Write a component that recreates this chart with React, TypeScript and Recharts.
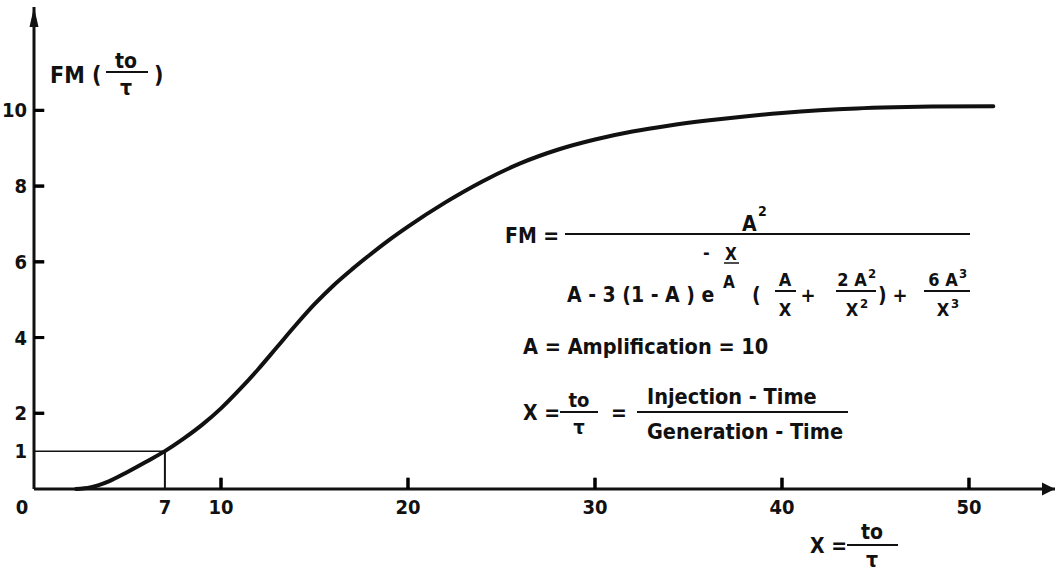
import React from 'react';
import { LineChart, Line, XAxis, YAxis, ReferenceLine } from 'recharts';

// curve: X = to/τ against FM(to/τ)
const xValues = [2.25, 3, 4, 5, 6, 7, 8, 9, 10, 11, 12, 13, 14, 15, 16, 17, 18, 19, 20, 22, 24, 26, 28, 30, 32, 34, 36, 38, 40, 42, 44, 46, 48, 51.3];
const fmValues = [0, 0.04, 0.2, 0.45, 0.72, 1.0, 1.33, 1.7, 2.13, 2.63, 3.17, 3.75, 4.33, 4.88, 5.37, 5.8, 6.2, 6.58, 6.93, 7.57, 8.13, 8.6, 8.96, 9.23, 9.44, 9.6, 9.73, 9.84, 9.93, 10.0, 10.05, 10.08, 10.1, 10.11];

const xTicks = [0, 7, 10, 20, 30, 40, 50];
const yTicks = [1, 2, 4, 6, 8, 10];
const markX = 7;   // X where FM = 1
const markY = 1;

const data = xValues.map((x, i) => ({ x, fm: fmValues[i] }));

const FONT = "'DejaVu Sans Condensed', 'Liberation Sans Narrow', 'DejaVu Sans', sans-serif";
const INK = '#111';

const txt = { fontFamily: FONT, fontWeight: 700, fill: INK } as const;

// inward tick marks, also drawn as short reference segments (length in axis units)
const xMarkLen = 0.3;
const yMarkLen = 0.55;

const renderXTick = (props: any) => {
  const { x, y, payload } = props;
  const v = payload.value;
  return (
    <g key={'xt' + v}>
      {v >= 10 && <path d={`M${x},${y} L${x},${y - 11}`} stroke="#000" strokeWidth={3} fill="none" />}
      <text x={v === 0 ? x - 12 : x} y={y + 25} textAnchor="middle" fontSize={20} {...txt}>{v}</text>
    </g>
  );
};

const renderYTick = (props: any) => {
  const { x, y, payload } = props;
  const v = payload.value;
  return (
    <g key={'yt' + v}>
      {v >= 2 && <path d={`M${x},${y} L${x + 10},${y}`} stroke="#000" strokeWidth={3} fill="none" />}
      <text x={x - 7} y={y + 7} textAnchor="end" fontSize={20} {...txt}>{v}</text>
    </g>
  );
};

const Frac = ({ cx, top, bottom, lineY, x1, x2, size = 18 }: any) => (
  <g>
    <text x={cx} y={top.y} textAnchor="middle" fontSize={size} {...txt}>{top.t}</text>
    <line x1={x1} y1={lineY} x2={x2} y2={lineY} stroke={INK} strokeWidth={2} />
    <text x={cx} y={bottom.y} textAnchor="middle" fontSize={size} {...txt}>{bottom.t}</text>
  </g>
);

const Overlay = () => (
  <svg width={1056} height={572} style={{ position: 'absolute', left: 0, top: 0, pointerEvents: 'none', background: 'transparent' }}>
    <defs>
      <marker id="arrowX" markerUnits="userSpaceOnUse" markerWidth={14} markerHeight={14} refX={13} refY={7} orient="0">
        <path d="M0,0.5 L13,7 L0,13.5 z" fill={INK} />
      </marker>
      <marker id="arrowY" markerUnits="userSpaceOnUse" markerWidth={10} markerHeight={21} refX={5} refY={0} orient="0">
        <path d="M0.5,20 L5,0 L9.5,20 z" fill={INK} />
      </marker>
    </defs>

    {/* y axis title */}
    <text x={50} y={83} fontSize={23} {...txt}>FM (</text>
    <Frac cx={126} x1={106} x2={148} lineY={72} top={{ t: 'to', y: 68 }} bottom={{ t: 'τ', y: 95 }} size={21} />
    <text x={154} y={83} fontSize={23} {...txt}>)</text>

    {/* formula */}
    <text x={505} y={243} fontSize={21} {...txt}>FM =</text>
    <line x1={565} y1={234} x2={970} y2={234} stroke={INK} strokeWidth={2} />
    <text x={742} y={231} fontSize={21} {...txt}>A</text>
    <text x={758} y={216} fontSize={14} {...txt}>2</text>

    <text x={567} y={302} fontSize={21} {...txt}>A - 3 (1 - A ) e</text>
    <text x={703} y={259} fontSize={18} {...txt}>-</text>
    <text x={731} y={260} textAnchor="middle" fontSize={17} {...txt}>X</text>
    <line x1={724} y1={263} x2={739} y2={263} stroke={INK} strokeWidth={1.5} />
    <text x={729} y={288} textAnchor="middle" fontSize={17} {...txt}>A</text>

    <text x={752} y={302} fontSize={21} {...txt}>(</text>
    <Frac cx={785} x1={775} x2={796} lineY={291} top={{ t: 'A', y: 286 }} bottom={{ t: 'X', y: 316 }} />
    <text x={808} y={302} textAnchor="middle" fontSize={20} {...txt}>+</text>
    <Frac cx={852} x1={836} x2={876} lineY={291} top={{ t: '2 A', y: 286 }} bottom={{ t: 'X', y: 316 }} />
    <text x={868} y={278} fontSize={13} {...txt}>2</text>
    <text x={860} y={308} fontSize={13} {...txt}>2</text>
    <text x={878} y={302} fontSize={21} {...txt}>)</text>
    <text x={900} y={302} textAnchor="middle" fontSize={20} {...txt}>+</text>
    <Frac cx={943} x1={924} x2={970} lineY={291} top={{ t: '6 A', y: 286 }} bottom={{ t: 'X', y: 316 }} />
    <text x={959} y={278} fontSize={13} {...txt}>3</text>
    <text x={951} y={308} fontSize={13} {...txt}>3</text>

    <text x={523} y={354} fontSize={21.5} {...txt}>A = Amplification = 10</text>

    <text x={523} y={420} fontSize={21} {...txt}>X =</text>
    <Frac cx={579} x1={560} x2={598} lineY={412} top={{ t: 'to', y: 407 }} bottom={{ t: 'τ', y: 434 }} size={20} />
    <text x={611} y={420} fontSize={21} {...txt}>=</text>
    <text x={647} y={404} fontSize={21.5} {...txt}>Injection - Time</text>
    <line x1={637} y1={412} x2={848} y2={412} stroke={INK} strokeWidth={2} />
    <text x={647} y={439} fontSize={21.5} {...txt}>Generation - Time</text>

    {/* x axis title */}
    <text x={810} y={553} fontSize={21} {...txt}>X =</text>
    <Frac cx={872} x1={847} x2={898} lineY={545} top={{ t: 'to', y: 539 }} bottom={{ t: 'τ', y: 567 }} size={21} />
  </svg>
);

export default function App() {
  return (
    <div style={{ position: 'absolute', left: 0, top: 0, width: 1056, height: 572, background: '#fff' }}>
      <LineChart width={1056} height={572} data={data} margin={{ top: 7, right: 1, bottom: 0, left: 0 }}>
        <XAxis
          type="number"
          dataKey="x"
          domain={[0, 54.6]}
          ticks={xTicks}
          interval={0}
          height={83}
          stroke={INK}
          tickSize={0}
          tickMargin={0}
          tickLine={false}
          tick={renderXTick}
          axisLine={{ stroke: INK, strokeWidth: 3, markerEnd: 'url(#arrowX)' }}
        />
        <YAxis
          type="number"
          domain={[0, 12.73]}
          ticks={yTicks}
          interval={0}
          width={34}
          stroke={INK}
          tickSize={0}
          tickMargin={0}
          tickLine={false}
          tick={renderYTick}
          axisLine={{ stroke: INK, strokeWidth: 3, markerStart: 'url(#arrowY)' }}
        />
        {xTicks.filter((v) => v >= 10).map((v) => (
          <ReferenceLine key={'xm' + v} segment={[{ x: v, y: 0 }, { x: v, y: xMarkLen }]} stroke="#000" strokeWidth={3} />
        ))}
        {yTicks.filter((v) => v >= 2).map((v) => (
          <ReferenceLine key={'ym' + v} segment={[{ x: 0, y: v }, { x: yMarkLen, y: v }]} stroke="#000" strokeWidth={3} />
        ))}
        <ReferenceLine segment={[{ x: 0, y: markY }, { x: markX, y: markY }]} stroke={INK} strokeWidth={1.5} />
        <ReferenceLine segment={[{ x: markX, y: 0 }, { x: markX, y: markY }]} stroke={INK} strokeWidth={2} />
        <Line
          type="monotone"
          dataKey="fm"
          stroke={INK}
          strokeWidth={4}
          strokeLinecap="round"
          dot={false}
          activeDot={false}
          isAnimationActive={false}
        />
      </LineChart>
      <Overlay />
    </div>
  );
}
